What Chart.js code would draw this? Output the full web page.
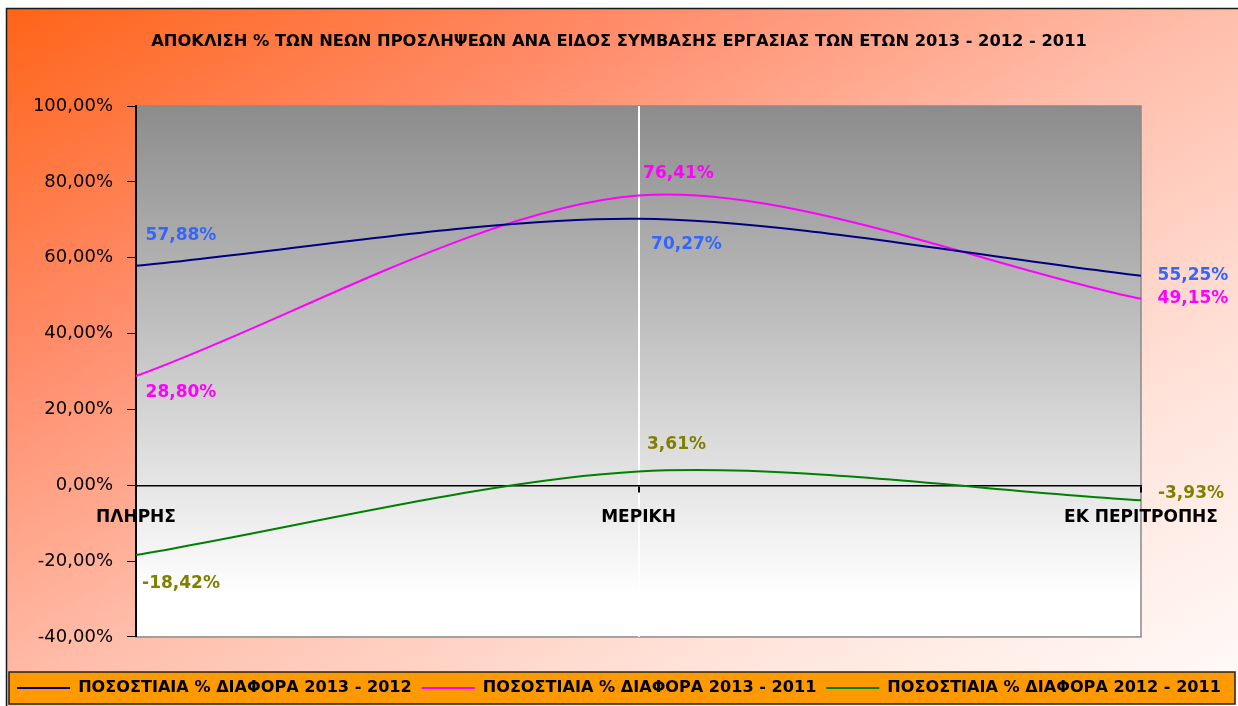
<!DOCTYPE html>
<html><head><meta charset="utf-8">
<script src="https://cdn.jsdelivr.net/npm/chart.js@4/dist/chart.umd.min.js"></script>
<style>html,body{margin:0;padding:0;background:#fff;overflow:hidden}#wrap{width:1238px;height:706px;position:relative}</style>
</head><body><div id="wrap"><canvas id="c" width="1238" height="706"></canvas></div>
<script>
// ---- data ----
const titleText = 'ΑΠΟΚΛΙΣΗ % ΤΩΝ ΝΕΩΝ ΠΡΟΣΛΗΨΕΩΝ ΑΝΑ ΕΙΔΟΣ ΣΥΜΒΑΣΗΣ ΕΡΓΑΣΙΑΣ ΤΩΝ ΕΤΩΝ 2013 - 2012 - 2011';
const categories = ['ΠΛΗΡΗΣ', 'ΜΕΡΙΚΗ', 'ΕΚ ΠΕΡΙΤΡΟΠΗΣ'];
const seriesNames = ['ΠΟΣΟΣΤΙΑΙΑ % ΔΙΑΦΟΡΑ 2013 - 2012', 'ΠΟΣΟΣΤΙΑΙΑ % ΔΙΑΦΟΡΑ 2013 - 2011', 'ΠΟΣΟΣΤΙΑΙΑ % ΔΙΑΦΟΡΑ 2012 - 2011'];
const diff2013vs2012 = [57.88, 70.27, 55.25];
const diff2013vs2011 = [28.80, 76.41, 49.15];
const diff2012vs2011 = [-18.42, 3.61, -3.93];
const yTickValues = [-40, -20, 0, 20, 40, 60, 80, 100];

// ---- styles ----
const lineColors = ['#000080', '#ff00ff', '#008000'];
const labelColors = ['#3366ff', '#ff00ff', '#808000'];
const labelOffsets = [
  [[45, -30], [48, 26], [52, 0]],
  [[45, 17], [40, -22], [52, 0]],
  [[45, 28], [38, -27], [50, -7]]
];
const fmtPct = v => v.toFixed(2).replace('.', ',') + '%';

function fitFont(text, weight, family, width) {
  const c = document.createElement('canvas').getContext('2d');
  c.font = weight + ' 100px "' + family + '"';
  return Math.round(1000 * width / c.measureText(text).width) / 10;
}
const titleSize = fitFont(titleText, 'bold', 'DejaVu Sans', 937);
const legendSize = fitFont(seriesNames[0], 'bold', 'DejaVu Sans', 334);
const legendPad = 18 - legendSize / 2;

const bgPlugin = {
  id: 'bg',
  beforeDraw(chart) {
    const ctx = chart.ctx, W = chart.width, H = chart.height;
    ctx.save();
    ctx.fillStyle = '#ffffff';
    ctx.fillRect(0, 0, W, H);
    const bw = W - 7, bh = H - 9;
    const s = 2 * bw * bh / (bw * bw + bh * bh);
    const g = ctx.createLinearGradient(7, 9, 7 + s * bh, 9 + s * bw);
    g.addColorStop(0, '#ff6418');
    g.addColorStop(0.26, '#ff8c6a');
    g.addColorStop(0.5, '#ffbeab');
    g.addColorStop(0.75, '#ffe3da');
    g.addColorStop(1, '#fffcfb');
    ctx.fillStyle = g;
    ctx.fillRect(7, 9, bw, bh);
    ctx.strokeStyle = '#1a1a1a';
    ctx.lineWidth = 1.5;
    ctx.strokeRect(6.5, 8.5, W + 10, H + 10);
    const a = chart.chartArea;
    const pg = ctx.createLinearGradient(0, a.top, 0, a.bottom);
    pg.addColorStop(0, '#8c8c8c');
    pg.addColorStop(0.92, '#ffffff');
    pg.addColorStop(1, '#ffffff');
    ctx.fillStyle = pg;
    ctx.fillRect(a.left, a.top, a.right - a.left, a.bottom - a.top);
    ctx.strokeStyle = '#8a8a8a';
    ctx.lineWidth = 1.5;
    ctx.strokeRect(a.left, a.top, a.right - a.left, a.bottom - a.top);
    // legend frame
    ctx.fillStyle = '#ff9900';
    ctx.fillRect(9, 672, 1226, 32);
    ctx.strokeStyle = '#222';
    ctx.lineWidth = 1.5;
    ctx.strokeRect(9, 672, 1226, 32);
    ctx.restore();
  }
};

const labelPlugin = {
  id: 'vlabels',
  afterDatasetsDraw(chart) {
    const ctx = chart.ctx;
    ctx.save();
    ctx.font = 'bold 17px "DejaVu Sans"';
    ctx.textAlign = 'center';
    ctx.textBaseline = 'middle';
    chart.data.datasets.forEach((ds, di) => {
      const meta = chart.getDatasetMeta(di);
      meta.data.forEach((el, i) => {
        const o = labelOffsets[di][i];
        ctx.fillStyle = labelColors[di];
        ctx.fillText(fmtPct(ds.data[i]), el.x + o[0], el.y + o[1]);
      });
    });
    ctx.restore();
  }
};

const datasets = [diff2013vs2012, diff2013vs2011, diff2012vs2011].map((d, i) => ({
  label: seriesNames[i],
  data: d,
  borderColor: lineColors[i],
  backgroundColor: lineColors[i],
  borderWidth: 2,
  pointRadius: 0,
  tension: 0.3,
  fill: false
}));

new Chart(document.getElementById('c'), {
  type: 'line',
  data: { labels: categories, datasets },
  plugins: [bgPlugin, labelPlugin],
  options: {
    responsive: false,
    devicePixelRatio: 1,
    animation: false,
    layout: { padding: 0 },
    plugins: {
      title: {
        display: true, text: titleText, color: '#000',
        font: { family: 'DejaVu Sans', weight: 'bold', size: titleSize, lineHeight: 1.2 },
        padding: { top: 42 - titleSize * 0.6, bottom: 106 - 42 - titleSize * 0.6 }
      },
      legend: {
        position: 'bottom',
        title: { display: true, text: '', font: { size: 1, lineHeight: 1 }, padding: { top: 32, bottom: 0 } },
        labels: {
          color: '#000',
          font: { family: 'DejaVu Sans', weight: 'bold', size: legendSize },
          boxWidth: 53, boxHeight: 2, padding: legendPad,
          generateLabels: chart => chart.data.datasets.map((ds, i) => ({
            text: ds.label, fillStyle: ds.borderColor, strokeStyle: ds.borderColor,
            lineWidth: 0, hidden: false, datasetIndex: i, fontColor: '#000'
          }))
        }
      },
      tooltip: { enabled: false }
    },
    scales: {
      x: {
        position: { y: 0 },
        offset: false,
        grid: {
          color: c => c.index === 1 ? '#ffffff' : 'rgba(0,0,0,0)',
          lineWidth: 2, drawTicks: true, tickLength: 6, tickColor: '#000'
        },
        border: { color: '#000', width: 1.5 },
        ticks: {
          color: '#000', maxRotation: 0, autoSkip: false, padding: 16,
          font: { family: 'DejaVu Sans', weight: 'bold', size: 17 }
        }
      },
      y: {
        min: -40, max: 100,
        afterBuildTicks: s => { s.ticks = yTickValues.map(v => ({ value: v })); },
        afterFit: s => { s.width = 136; },
        grid: { drawOnChartArea: false, drawTicks: true, tickLength: 9, tickColor: '#000' },
        border: { color: '#000', width: 2 },
        ticks: {
          color: '#000', padding: 14, callback: v => fmtPct(v),
          font: { family: 'DejaVu Sans', size: 18 }
        }
      },
      rightSpace: {
        type: 'linear', axis: 'y', position: 'right', display: true,
        grid: { display: false }, border: { display: false }, ticks: { display: false },
        afterFit: s => { s.width = 97; }
      }
    }
  }
});
</script></body></html>
